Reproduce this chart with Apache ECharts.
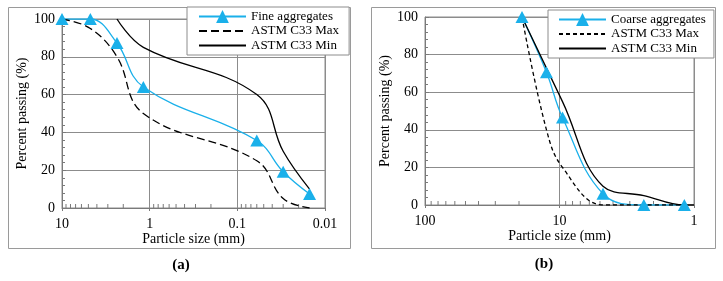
<!DOCTYPE html>
<html>
<head>
<meta charset="utf-8">
<script src="https://cdn.jsdelivr.net/npm/echarts@6/dist/echarts.min.js"></script>
<style>
  html, body { margin: 0; padding: 0; background: #fff; }
  #wrap { position: relative; width: 723px; height: 281px; }
  #chartA { position: absolute; left: 0; top: 0; width: 361px; height: 281px; }
  #chartB { position: absolute; left: 361px; top: 0; width: 362px; height: 281px; }
</style>
</head>
<body>
<div id="wrap">
  <div id="chartA"></div>
  <div id="chartB"></div>
</div>
<script>
// (a) fine aggregates - sieve size (mm) / percent passing
const fineSizes = [10, 4.75, 2.36, 1.18, 0.06, 0.03, 0.015]
const fineAgg = [100, 100, 87.3, 64, 35.7, 19.2, 7.4]
const fineMax = [100, 95, 80, 50, 25, 5, 0]
const fineMinSizes = [2.36, 1.18, 0.06, 0.03, 0.015]
const fineMin = [100, 85, 60, 30, 10]
const fineDecades = [1, 0.1, 0.01]

// (b) coarse aggregates
const coarseSizes = [19, 12.5, 9.5, 4.75, 2.36, 1.18]
const coarseAgg = [100, 70.6, 46.5, 6, 0, 0]
const coarseMax = [100, 40, 20, 0, 0, 0]
const coarseMinSizes = [19, 9.5, 4.75, 2.36, 1.18, 1]
const coarseMin = [100, 55, 10, 5, 0, 0]
const coarseDecades = [10, 1]

const minorSteps = [2, 3, 4, 5, 6, 7, 8, 9]

const BLUE = '#1ab0ea'
const GRID_GRAY = '#8c8c8c'
const AXIS_GRAY = '#7a7a7a'
const FONT = 'Liberation Serif'

function pairs(xs, ys) {
  return xs.map((x, i) => [x, ys[i]])
}

// legend entries for the limit curves: line only, no marker
function lineOnly(name) {
  return { name, itemStyle: { color: 'rgba(0,0,0,0)', borderColor: 'rgba(0,0,0,0)', borderWidth: 0 } }
}

function makePanel(el, cfg) {
  const chart = echarts.init(el)
  const minor = []
  cfg.decades.forEach(d => minorSteps.forEach(k => minor.push([+(d * k).toPrecision(3), 0])))

  chart.setOption({
    animation: false,
    textStyle: { fontFamily: FONT },
    graphic: [
      {
        type: 'rect',
        shape: cfg.frame,
        style: { fill: 'none', stroke: '#9a9a9a', lineWidth: 1 },
        z: 0
      },
      {
        type: 'text',
        x: cfg.caption[1],
        y: cfg.caption[2],
        style: {
          text: cfg.caption[0],
          align: 'center',
          verticalAlign: 'middle',
          fontSize: 15,
          fontWeight: 'bold',
          fontFamily: FONT,
          fill: '#000'
        }
      }
    ],
    legend: {
      orient: 'vertical',
      left: cfg.legend[0],
      top: cfg.legend[1],
      itemWidth: 47,
      itemHeight: 16,
      itemGap: 1.5,
      padding: cfg.legendPad,
      backgroundColor: '#fff',
      borderColor: GRID_GRAY,
      borderWidth: 1,
      textStyle: { fontSize: 13, color: '#000', fontFamily: FONT },
      data: [cfg.name, lineOnly('ASTM C33 Max'), lineOnly('ASTM C33 Min')]
    },
    grid: {
      left: cfg.grid[0],
      top: cfg.grid[1],
      width: cfg.grid[2],
      height: cfg.grid[3],
      show: true,
      borderColor: GRID_GRAY,
      borderWidth: 1
    },
    xAxis: {
      type: 'log',
      logBase: 10,
      inverse: true,
      min: cfg.xRange[0],
      max: cfg.xRange[1],
      name: 'Particle size (mm)',
      nameLocation: 'middle',
      nameGap: 24,
      nameMoveOverlap: false,
      nameTextStyle: { fontSize: 14, color: '#000', fontFamily: FONT },
      axisLine: { show: true, onZero: false, lineStyle: { color: AXIS_GRAY } },
      axisTick: { show: true, length: 3, lineStyle: { color: AXIS_GRAY } },
      axisLabel: {
        fontSize: 14,
        color: '#000',
        margin: 9,
        formatter: v => String(+v.toPrecision(3))
      },
      splitLine: { show: true, lineStyle: { color: GRID_GRAY } }
    },
    yAxis: {
      type: 'value',
      min: 0,
      max: 100,
      interval: 20,
      name: 'Percent passing (%)',
      nameLocation: 'middle',
      nameGap: 33,
      nameMoveOverlap: false,
      nameTextStyle: { fontSize: 14, color: '#000', fontFamily: FONT },
      axisLine: { show: true, lineStyle: { color: AXIS_GRAY } },
      axisTick: { show: true, inside: true, length: 4, lineStyle: { color: AXIS_GRAY } },
      minorTick: { show: true, splitNumber: 5, length: 3, lineStyle: { color: AXIS_GRAY } },
      axisLabel: { fontSize: 14, color: '#000', margin: 7 },
      splitLine: { lineStyle: { color: GRID_GRAY } }
    },
    series: [
      {
        type: 'custom',
        silent: true,
        data: minor,
        encode: { x: 0, y: 1 },
        clip: false,
        z: 1,
        renderItem(params, api) {
          const p = api.coord([api.value(0), 0])
          return {
            type: 'line',
            shape: { x1: p[0], y1: p[1], x2: p[0], y2: p[1] - 4 },
            style: { stroke: AXIS_GRAY, lineWidth: 1 }
          }
        }
      },
      {
        name: cfg.name,
        type: 'line',
        data: pairs(cfg.sizes, cfg.agg),
        smooth: 0.4,
        symbol: 'triangle',
        symbolSize: [13, 12],
        itemStyle: { color: BLUE },
        lineStyle: { color: BLUE, width: 1.3 }
      },
      {
        name: 'ASTM C33 Max',
        type: 'line',
        data: pairs(cfg.sizes, cfg.max),
        smooth: 0.4,
        showSymbol: false,
        symbol: 'none',
        itemStyle: { color: '#000' },
        lineStyle: { color: '#000', width: 1.3, type: cfg.dash }
      },
      {
        name: 'ASTM C33 Min',
        type: 'line',
        data: pairs(cfg.minSizes, cfg.min),
        smooth: 0.4,
        showSymbol: false,
        symbol: 'none',
        itemStyle: { color: '#000' },
        lineStyle: { color: '#000', width: 1.3 }
      }
    ]
  })
  return chart
}

makePanel(document.getElementById('chartA'), {
  name: 'Fine aggregates',
  sizes: fineSizes,
  agg: fineAgg,
  max: fineMax,
  minSizes: fineMinSizes,
  min: fineMin,
  decades: fineDecades,
  xRange: [0.01, 10],
  grid: [62, 19, 263, 189],
  frame: { x: 8.5, y: 7.5, width: 342, height: 241 },
  legend: [187, 7],
  legendPad: [3, 10, 3, 11],
  caption: ['(a)', 181, 265],
  dash: [8, 4]
})

makePanel(document.getElementById('chartB'), {
  name: 'Coarse aggregates',
  sizes: coarseSizes,
  agg: coarseAgg,
  max: coarseMax,
  minSizes: coarseMinSizes,
  min: coarseMin,
  decades: coarseDecades,
  xRange: [1, 100],
  grid: [64, 17, 269, 188],
  frame: { x: 10.5, y: 7.5, width: 344, height: 241 },
  legend: [187, 10],
  legendPad: [3, 8, 3, 10],
  caption: ['(b)', 183, 264],
  dash: [4, 3]
})
</script>
</body>
</html>
